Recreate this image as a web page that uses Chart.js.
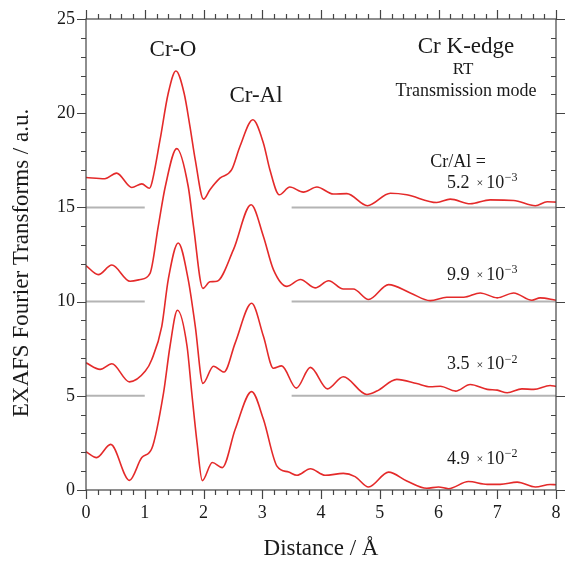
<!DOCTYPE html>
<html>
<head>
<meta charset="UTF-8">
<title>Cr K-edge EXAFS</title>
<script src="https://cdn.jsdelivr.net/npm/chart.js"></script>
<style>
  body { margin: 0; background: #fff; }
  #wrap { width: 565px; height: 561px; }
</style>
</head>
<body>
<div id="wrap"><canvas id="exafs" width="565" height="561"></canvas></div>
<script>
// distance (Å) and FT magnitude, one pair of arrays per sample (already offset)
const r1 = [0, 0.32, 0.52, 0.78, 0.95, 1.08, 1.12, 1.26, 1.40, 1.53, 1.67, 1.77, 1.86, 2.0, 2.11, 2.28, 2.48, 2.62, 2.84, 3.02, 3.13, 3.29, 3.47, 3.70, 3.93, 4.21, 4.44, 4.79, 5.18, 5.46, 5.97, 6.20, 6.54, 6.88, 7.28, 7.65, 7.85, 8.0];
const ft1 = [16.59, 16.52, 16.82, 16.06, 16.25, 16.02, 16.29, 18.58, 21.06, 22.24, 21.06, 19.29, 17.52, 15.44, 15.94, 16.55, 17.0, 18.23, 19.65, 18.41, 17.0, 15.67, 16.08, 15.81, 16.08, 15.71, 15.73, 15.09, 15.75, 15.67, 15.26, 15.44, 15.19, 15.40, 15.37, 15.09, 15.30, 15.28];

const r2 = [0, 0.21, 0.44, 0.75, 0.92, 1.09, 1.23, 1.35, 1.545, 1.74, 1.83, 1.99, 2.11, 2.23, 2.51, 2.81, 3.02, 3.19, 3.42, 3.65, 3.90, 4.13, 4.38, 4.55, 4.81, 5.15, 5.52, 5.86, 6.14, 6.43, 6.71, 7.0, 7.28, 7.59, 7.73, 8.0];
const ft2 = [11.91, 11.43, 11.94, 11.08, 11.17, 11.50, 13.99, 16.11, 18.12, 16.11, 13.99, 10.70, 11.05, 11.08, 12.76, 15.14, 13.46, 11.70, 10.81, 11.17, 10.73, 11.11, 10.67, 10.67, 10.11, 10.90, 10.46, 10.05, 10.23, 10.23, 10.46, 10.20, 10.46, 10.07, 10.20, 10.07];

const r3 = [0, 0.24, 0.44, 0.74, 1.01, 1.12, 1.29, 1.40, 1.57, 1.74, 1.86, 1.99, 2.17, 2.35, 2.54, 2.82, 3.02, 3.19, 3.33, 3.58, 3.82, 4.11, 4.38, 4.78, 4.95, 5.29, 5.63, 5.86, 6.03, 6.29, 6.54, 6.83, 7.0, 7.17, 7.42, 7.62, 7.90, 8.0];
const ft3 = [6.75, 6.40, 6.70, 5.74, 6.31, 6.93, 8.69, 11.17, 13.11, 11.17, 8.69, 5.66, 6.57, 6.26, 7.81, 9.91, 8.16, 6.46, 6.59, 5.41, 6.51, 5.37, 6.01, 5.07, 5.25, 5.87, 5.65, 5.48, 5.51, 5.25, 5.60, 5.34, 5.30, 5.16, 5.37, 5.34, 5.55, 5.50];

const r4 = [0, 0.18, 0.42, 0.74, 0.95, 1.12, 1.32, 1.43, 1.556, 1.72, 1.80, 1.89, 1.98, 2.15, 2.32, 2.54, 2.82, 3.02, 3.25, 3.45, 3.59, 3.82, 4.07, 4.38, 4.58, 4.81, 5.15, 5.46, 5.80, 6.0, 6.17, 6.51, 6.83, 7.05, 7.34, 7.65, 7.90, 8.0];
const ft4 = [2.03, 1.72, 2.42, 0.51, 1.72, 2.20, 5.16, 7.63, 9.54, 7.63, 5.16, 2.51, 0.50, 1.46, 1.19, 3.22, 5.22, 3.75, 1.27, 0.95, 0.78, 1.13, 0.78, 0.88, 0.71, 0.16, 0.95, 0.48, 0.09, 0.16, 0.07, 0.45, 0.30, 0.30, 0.42, 0.16, 0.29, 0.28];

// grey reference lines under the upper three spectra
const baseLevels = [15, 10, 5];
const baseSpans = [[0, 1], [3.5, 8]];

// Cr/Al ratio labels: mantissa, exponent, y position (data units)
const ratioMant = ['5.2', '9.9', '3.5', '4.9'];
const ratioExp = ['\u22123', '\u22123', '\u22122', '\u22122'];
const ratioY = [16.3, 11.4, 6.65, 1.65];

const xTicks = [0, 1, 2, 3, 4, 5, 6, 7, 8];
const yTicks = [0, 5, 10, 15, 20, 25];

const SERIF = '"Liberation Serif", "DejaVu Serif", serif';
const RED = '#e42a2a';

function pts(xs, ys) {
    return xs.map((x, i) => ({ x: x, y: ys[i] }));
}

const datasets = [];
[[r1, ft1], [r2, ft2], [r3, ft3], [r4, ft4]].forEach(([xs, ys]) => {
    datasets.push({
        data: pts(xs, ys),
        showLine: true,
        borderColor: RED,
        borderWidth: 1.6,
        pointRadius: 0,
        cubicInterpolationMode: 'monotone',
        order: 1
    });
});
baseLevels.forEach(lv => {
    baseSpans.forEach(sp => {
        datasets.push({
            data: [{ x: sp[0], y: lv }, { x: sp[1], y: lv }],
            showLine: true,
            borderColor: '#b4b4b4',
            borderWidth: 2,
            pointRadius: 0,
            order: 2
        });
    });
});

// frame, tick marks and all the text labels
const decor = {
    id: 'decor',
    afterDraw(chart) {
        const c = chart.ctx;
        const a = chart.chartArea;
        const sx = chart.scales.x, sy = chart.scales.y;
        c.save();
        c.strokeStyle = '#444';
        c.lineWidth = 1.2;
        c.strokeRect(a.left, a.top, a.right - a.left, a.bottom - a.top);

        c.beginPath();
        for (let i = 0; i <= 40; i++) {
            const v = i / 5;
            const px = Math.round(sx.getPixelForValue(v)) + 0.5;
            const len = (i % 5 === 0) ? 9 : 5;
            c.moveTo(px, a.bottom); c.lineTo(px, a.bottom + len);
            c.moveTo(px, a.top); c.lineTo(px, a.top - len);
        }
        for (let v = 0; v <= 25; v++) {
            const py = Math.round(sy.getPixelForValue(v)) + 0.5;
            const major = v % 5 === 0;
            const len = major ? 9 : 5;
            c.moveTo(a.left, py); c.lineTo(a.left - len, py);
            if (major) { c.moveTo(a.right, py); c.lineTo(a.right + 9, py); }
            else { c.moveTo(a.right, py); c.lineTo(a.right - 5, py); }
        }
        c.stroke();

        c.fillStyle = '#1a1a1a';
        c.textAlign = 'center';
        c.textBaseline = 'middle';
        c.font = '23px ' + SERIF;
        c.fillText('Cr-O', 173, 50);
        c.fillText('Cr-Al', 256, 96);
        c.fillText('Cr K-edge', 466, 47);
        c.font = '17px ' + SERIF;
        c.fillText('RT', 463, 70);
        c.font = '18px ' + SERIF;
        c.fillText('Transmission mode', 466, 91);
        c.fillText('Cr/Al =', 458, 162);

        ratioMant.forEach((m, i) => {
            const y = sy.getPixelForValue(ratioY[i]);
            let x = 447;
            c.textAlign = 'left';
            c.font = '18px ' + SERIF;
            c.fillText(m, x, y);
            x += c.measureText(m).width + 7;
            c.font = '12px ' + SERIF;
            c.fillText('\u00d7', x, y + 1);
            x += c.measureText('\u00d7').width + 3;
            c.font = '18px ' + SERIF;
            c.fillText('10', x, y);
            x += c.measureText('10').width;
            c.font = '12px ' + SERIF;
            c.fillText(ratioExp[i], x + 0.5, y - 5);
        });

        c.textAlign = 'center';
        c.font = '23px ' + SERIF;
        c.fillText('Distance / \u00c5', 321, 549);
        c.translate(22, 263);
        c.rotate(-Math.PI / 2);
        c.fillText('EXAFS Fourier Transforms / a.u.', 0, 0);
        c.restore();
    }
};

new Chart(document.getElementById('exafs'), {
    type: 'scatter',
    data: { datasets: datasets },
    options: {
        responsive: false,
        animation: false,
        devicePixelRatio: 1,
        layout: { padding: { top: 19, right: 9, left: 0, bottom: 0 } },
        plugins: { legend: { display: false }, tooltip: { enabled: false } },
        scales: {
            x: {
                type: 'linear', min: 0, max: 8,
                afterBuildTicks: s => { s.ticks = xTicks.map(v => ({ value: v })); },
                afterFit: s => { s.height = 71; s.paddingLeft = 0; s.paddingRight = 0; },
                grid: { display: false, drawTicks: false },
                border: { display: false },
                ticks: { padding: 12, color: '#1a1a1a', font: { family: SERIF, size: 18 } }
            },
            y: {
                type: 'linear', min: 0, max: 25,
                afterBuildTicks: s => { s.ticks = yTicks.map(v => ({ value: v })); },
                afterFit: s => { s.width = 86; s.paddingTop = 0; s.paddingBottom = 0; },
                grid: { display: false, drawTicks: false },
                border: { display: false },
                ticks: { padding: 11, color: '#1a1a1a', font: { family: SERIF, size: 18 } }
            }
        }
    },
    plugins: [decor]
});
</script>
</body>
</html>
